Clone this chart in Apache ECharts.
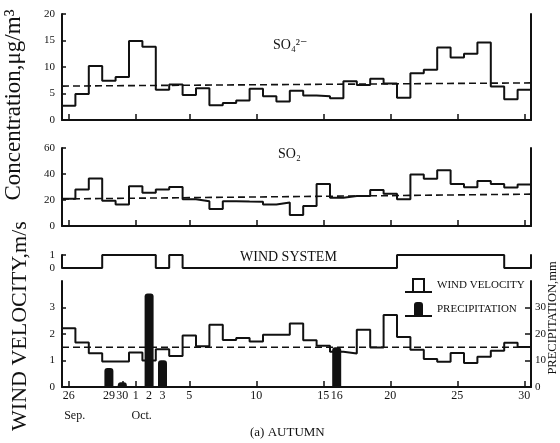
<!DOCTYPE html>
<html>
<head>
<meta charset="utf-8">
<script src="https://cdn.jsdelivr.net/npm/echarts@6/dist/echarts.min.js"></script>
<style>
  html, body { margin: 0; padding: 0; background: #fff; }
  #chart { width: 560px; height: 443px; }
</style>
</head>
<body>
<div id="chart"></div>
<script>
// Daily observations, 26 Sep – 30 Oct
const days = ['26','27','28','29','30',
  '1','2','3','4','5','6','7','8','9','10','11','12','13','14','15',
  '16','17','18','19','20','21','22','23','24','25','26','27','28','29','30'];

// Sulphate aerosol, µg/m³
const so4 = [2.7, 4.9, 10.2, 7.4, 8.1, 14.9, 13.8, 5.7, 6.7, 4.7, 6.0, 2.8, 3.2, 3.7, 5.9, 4.5, 3.5,
  5.5, 4.6, 4.5, 4.1, 7.3, 6.6, 7.8, 6.9, 4.2, 8.8, 9.5, 13.7, 11.8, 12.5, 14.6, 6.3, 3.9, 5.7];
const so4Trend = [6.4, 7.0];

// Sulphur dioxide, µg/m³
const so2 = [21, 28, 36.5, 19.5, 16.5, 30.5, 25.5, 28, 30, 20.5, 19, 13, 19, 18.8, 18.7, 16.5, 18,
  8.5, 15.4, 32.3, 21.8, 23, 23, 27.6, 24.8, 20.6, 39.7, 36.3, 42.9, 32.3, 29.9, 34.6, 32.3, 29.7, 31.9];
const so2Trend = [20.8, 24.5];

// Wind system (0 / 1)
const windSystem = [0, 0, 0, 1, 1, 1, 1, 0, 1, 0, 0, 0, 0, 0, 0, 0, 0, 0, 0, 0, 0, 0, 0, 0, 0,
  1, 1, 1, 1, 1, 1, 1, 1, 0, 0];

// Wind velocity, m/s
const windVelocity = [2.22, 1.68, 1.27, 0.96, 0.96, 1.3, 1.0, 1.42, 1.17, 1.94, 1.54, 2.35, 1.77, 1.85,
  1.72, 1.97, 1.97, 2.4, 1.76, 1.56, 1.33, 1.26, 2.16, 1.49, 2.72, 1.89, 1.41, 1.06, 0.95, 1.28,
  0.91, 1.14, 1.37, 1.67, 1.51];
const velocityTrend = [1.5, 1.5];

// Precipitation, mm
const precipitation = [null, null, null, 7.2, 1.8, null, 35.3, 10.1, null, null, null, null, null, null,
  null, null, null, null, null, null, 15, null, null, null, null, null, null, null, null, null,
  null, null, null, null, null];

// Which days carry ticks / labels
const concTickDays = [0, 5, 9, 14, 19, 24, 29, 34];
const labeledDays = [0, 3, 4, 5, 6, 7, 9, 14, 19, 20, 24, 29, 34];
const monthLabels = { 0: 'Sep.', 5: 'Oct.' };

const N = days.length;
const stepData = arr => arr.map((v, i) => [i, v]).concat([[N, arr[N - 1]]]);
const trendData = t => [[0, t[0]], [N, t[1]]];

const ink = '#111';
const serif = "'Liberation Serif','DejaVu Serif','Times New Roman',serif";
const L = 62, R = 29;

const grids = [
  { left: L, right: R, top: 14, height: 106 },
  { left: L, right: R, top: 148, height: 78 },
  { left: L, right: R, top: 255, height: 13 },
  { left: L, right: R, top: 281, height: 106 }
];

const xAxes = [];
grids.forEach((g, gi) => {
  xAxes.push({ type: 'value', gridIndex: gi, min: 0, max: N, show: false, position: 'top',
    axisLine: { onZero: false } });
  const tickSet = gi === 3 ? labeledDays : concTickDays;
  xAxes.push({
    type: 'category', gridIndex: gi, data: days, boundaryGap: true, position: 'bottom',
    axisLine: { show: gi !== 2, onZero: false, lineStyle: { color: ink, width: 2 } },
    axisTick: {
      show: gi !== 2, inside: true, length: 6, alignWithLabel: true,
      interval: idx => tickSet.includes(idx),
      lineStyle: { color: ink, width: 1.5 }
    },
    axisLabel: {
      show: gi === 3, interval: idx => labeledDays.includes(idx), margin: 3,
      color: ink, fontFamily: serif, fontSize: 12
    },
    splitLine: { show: false }
  });
});
xAxes.push({
  type: 'category', gridIndex: 3, data: days, boundaryGap: true, position: 'bottom', offset: 15,
  axisLine: { show: false, onZero: false }, axisTick: { show: false },
  axisLabel: {
    interval: idx => idx in monthLabels,
    formatter: (v, idx) => monthLabels[idx] ? '{m|' + monthLabels[idx] + '}' : '',
    rich: { m: { color: ink, fontFamily: serif, fontSize: 12, padding: [0, 0, 0, 12] } }
  }
});

function leftAxis(gi, max, interval, extra) {
  return Object.assign({
    type: 'value', gridIndex: gi, min: 0, max: max, interval: interval, position: 'left',
    axisLine: { show: true, onZero: false, lineStyle: { color: ink, width: 2 } },
    axisTick: { show: true, inside: true, length: 4, lineStyle: { color: ink, width: 1.5 } },
    axisLabel: { color: ink, fontFamily: serif, fontSize: 11, margin: 7 },
    splitLine: { show: false }
  }, extra || {});
}
function rightAxis(gi, max, interval, extra) {
  return Object.assign({
    type: 'value', gridIndex: gi, min: 0, max: max, interval: interval, position: 'right',
    axisLine: { show: true, onZero: false, lineStyle: { color: ink, width: 2 } },
    axisTick: { show: false }, axisLabel: { show: false },
    splitLine: { show: false }
  }, extra || {});
}

const yAxes = [
  leftAxis(0, 20, 5), rightAxis(0, 20, 5),
  leftAxis(1, 60, 20), rightAxis(1, 60, 20),
  leftAxis(2, 1, 1), rightAxis(2, 1, 1),
  leftAxis(3, 4, 1, {
    axisTick: { show: true, inside: true, length: 4, customValues: [0, 1, 2, 3], lineStyle: { color: ink, width: 1.5 } },
    axisLabel: { color: ink, fontFamily: serif, fontSize: 11, margin: 7, customValues: [0, 1, 2, 3] }
  }),
  rightAxis(3, 40, 10, {
    axisTick: { show: true, inside: true, length: 6, customValues: [10, 20, 30], lineStyle: { color: ink, width: 1.5 } },
    axisLabel: { show: true, color: ink, fontFamily: serif, fontSize: 11, margin: 4, customValues: [0, 10, 20, 30] }
  })
];

const stepLine = (name, data, xi, yi) => ({
  name: name, type: 'line', xAxisIndex: xi, yAxisIndex: yi, data: stepData(data), step: 'end',
  symbol: 'none', lineStyle: { color: ink, width: 2 }, itemStyle: { color: ink }, z: 2
});
const dashLine = (t, xi, yi) => ({
  type: 'line', xAxisIndex: xi, yAxisIndex: yi, data: trendData(t), symbol: 'none',
  lineStyle: { color: ink, width: 1.6, type: [7, 4] }, z: 2, silent: true
});

const titleStyle = size => ({ fontFamily: serif, fontSize: size, fontWeight: 'normal', color: ink });

const option = {
  animation: false,
  backgroundColor: '#fff',
  grid: grids,
  xAxis: xAxes,
  yAxis: yAxes,
  title: [
    { text: 'SO₄²⁻', left: 273, top: 38, padding: 0, textStyle: titleStyle(14) },
    { text: 'SO₂', left: 278, top: 147, padding: 0, textStyle: titleStyle(14) },
    { text: 'WIND SYSTEM', left: 240, top: 250, padding: 0, textStyle: titleStyle(14) },
    { text: '(a) AUTUMN', left: 250, top: 426, padding: 0, textStyle: titleStyle(13) }
  ],
  legend: {
    left: 405, top: 278, orient: 'vertical', itemWidth: 27, itemHeight: 15, itemGap: 9,
    selectedMode: false, padding: 0,
    textStyle: { fontFamily: serif, fontSize: 11, color: ink },
    data: [
      { name: 'WIND VELOCITY', icon: 'path://M0,13L7,13L7,0L20,0L20,13L27,13L27,15L0,15Z M9,2L9,13L18,13L18,2Z' },
      { name: 'PRECIPITATION', icon: 'path://M0,13L9,13L9,3Q9,0 12,0L15,0Q18,0 18,3L18,13L27,13L27,15L0,15Z' }
    ]
  },
  graphic: [
    { type: 'text', x: 14, y: 105, rotation: Math.PI / 2,
      style: { text: 'Concentration,μg/m³', fontFamily: serif, fontSize: 23, fill: ink, align: 'center', verticalAlign: 'middle' } },
    { type: 'text', x: 20, y: 326, rotation: Math.PI / 2,
      style: { text: 'WIND VELOCITY,m/s', fontFamily: serif, fontSize: 22, fill: ink, align: 'center', verticalAlign: 'middle' } },
    { type: 'text', x: 553, y: 318, rotation: Math.PI / 2,
      style: { text: 'PRECIPITATION,mm', fontFamily: serif, fontSize: 12.5, fill: ink, align: 'center', verticalAlign: 'middle' } }
  ],
  series: [
    stepLine('SO4', so4, 0, 0),
    dashLine(so4Trend, 0, 0),
    stepLine('SO2', so2, 2, 2),
    dashLine(so2Trend, 2, 2),
    stepLine('WIND SYSTEM', windSystem, 4, 4),
    stepLine('WIND VELOCITY', windVelocity, 6, 6),
    dashLine(velocityTrend, 6, 6),
    {
      name: 'PRECIPITATION', type: 'bar', xAxisIndex: 7, yAxisIndex: 7, data: precipitation,
      barWidth: 9, itemStyle: { color: ink, borderRadius: [3, 3, 0, 0] }, z: 4
    }
  ]
};

const chart = echarts.init(document.getElementById('chart'), null, { renderer: 'canvas' });
chart.setOption(option);
</script>
</body>
</html>
